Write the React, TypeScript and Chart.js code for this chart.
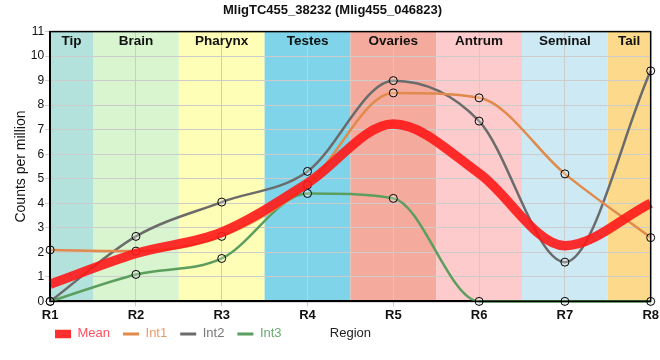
import React, { useEffect, useRef } from "react";
import { Chart, registerables } from "chart.js";

Chart.register(...registerables);

const TITLE = "MligTC455_38232 (Mlig455_046823)";
const categories = ["R1", "R2", "R3", "R4", "R5", "R6", "R7", "R8"];
const meanValues = [0.7, 1.95, 2.82, 4.82, 7.23, 5.22, 2.27, 4.0];
const int1Values = [2.1, 2.05, 2.65, 4.75, 8.5, 8.3, 5.2, 2.6];
const int2Values = [0, 2.65, 4.05, 5.3, 9.0, 7.35, 1.6, 9.4];
const int3Values = [0, 1.1, 1.75, 4.4, 4.2, 0, 0, 0];
const regionNames = ["Tip", "Brain", "Pharynx", "Testes", "Ovaries", "Antrum", "Seminal", "Tail"];
const regionColors = ["#b3e2dc", "#d8f5cf", "#fefeb6", "#7fd4ea", "#f4ab9d", "#fdcbcb", "#cdeaf4", "#fcd98b"];
const legendTextColors = ["#ff4f5e", "#e89a68", "#787878", "#6aab72"];

const bandEdges = (x: any, chartArea: any, i: number) => {
  const l = i === 0 ? chartArea.left : (x.getPixelForValue(i - 1) + x.getPixelForValue(i)) / 2;
  const r = i === regionNames.length - 1 ? chartArea.right : (x.getPixelForValue(i) + x.getPixelForValue(i + 1)) / 2;
  return [l, r];
};

const bandsPlugin = {
  id: "bands",
  afterLayout(chart: any) {
    const lg = chart.legend;
    const h = lg.height;
    lg.top = chart.chartArea.bottom + 13;
    lg.bottom = lg.top + h;
    lg.left = 42;
  },
  beforeDraw(chart: any) {
    const { ctx, chartArea, scales } = chart;
    ctx.save();
    for (let i = 0; i < regionNames.length; i++) {
      const [l, r] = bandEdges(scales.x, chartArea, i);
      ctx.fillStyle = regionColors[i];
      ctx.fillRect(l, chartArea.top, r - l, chartArea.bottom - chartArea.top);
    }
    ctx.restore();
  },
  afterDraw(chart: any) {
    const { ctx, chartArea, scales } = chart;
    ctx.save();
    ctx.strokeStyle = "#000";
    ctx.lineWidth = 1.5;
    ctx.strokeRect(chartArea.left, chartArea.top, chartArea.right - chartArea.left, chartArea.bottom - chartArea.top);
    ctx.fillStyle = "#111";
    ctx.font = "bold 13.5px Arial";
    ctx.textAlign = "center";
    ctx.textBaseline = "middle";
    for (let i = 0; i < regionNames.length; i++) {
      const [l, r] = bandEdges(scales.x, chartArea, i);
      ctx.fillText(regionNames[i], (l + r) / 2, chartArea.top + 10);
    }
    const lg = chart.legend;
    ctx.font = "13px Arial";
    ctx.fillStyle = "#222";
    ctx.fillText("Region", (chartArea.left + chartArea.right) / 2, lg.top + lg.height / 2 + 1);
    ctx.restore();
  },
};

export default function App() {
  const ref = useRef<HTMLCanvasElement>(null);
  useEffect(() => {
    document.body.style.margin = "0";
    const pointCommon = {
      pointRadius: 4,
      pointBackgroundColor: "rgba(255,255,255,0.25)",
      pointBorderColor: "#000",
      pointBorderWidth: 1,
      borderWidth: 2.5,
      cubicInterpolationMode: "monotone" as const,
      clip: false as any,
    };
    const chart = new Chart(ref.current!, {
      type: "line",
      data: {
        labels: categories,
        datasets: [
          {
            label: "Mean",
            data: meanValues,
            borderColor: "rgba(255,24,24,0.9)",
            backgroundColor: "rgba(255,24,24,0.9)",
            borderWidth: 9.5,
            pointRadius: 0,
            cubicInterpolationMode: "monotone",
            clip: false as any,
          },
          { label: "Int1", data: int1Values, borderColor: "#e08a4c", ...pointCommon },
          { label: "Int2", data: int2Values, borderColor: "#6b6b6b", ...pointCommon },
          { label: "Int3", data: int3Values, borderColor: "#5c9e5e", ...pointCommon },
        ],
      },
      options: {
        animation: false,
        responsive: false,
        layout: { padding: { left: 13, right: 8, top: 0, bottom: 0 } },
        plugins: {
          title: {
            display: true,
            text: TITLE,
            color: "#111",
            font: { family: "Arial", size: 13, weight: "bold" },
            padding: { top: 3, bottom: 13 },
          },
          tooltip: { enabled: false },
          legend: {
            position: "bottom",
            align: "start",
            labels: {
              usePointStyle: true,
              boxHeight: 8.5,
              pointStyleWidth: 16,
              padding: 13,
              font: { family: "Arial", size: 13 },
              generateLabels: (ch: any) =>
                ch.data.datasets.map((d: any, i: number) => ({
                  text: d.label,
                  datasetIndex: i,
                  hidden: false,
                  fillStyle: d.borderColor,
                  strokeStyle: d.borderColor,
                  lineWidth: i === 0 ? 0 : 3,
                  pointStyle: i === 0 ? "rect" : "line",
                  fontColor: legendTextColors[i],
                })),
            },
          },
        },
        scales: {
          x: {
            grid: { color: "#cccccc", lineWidth: 1, tickLength: 5, drawTicks: true },
            border: { color: "#000", width: 2 },
            ticks: { color: "#111", font: { family: "Arial", size: 13, weight: "bold" }, padding: 1 },
          },
          y: {
            min: 0,
            max: 11,
            grid: { color: "#cccccc", lineWidth: 1, tickLength: 5 },
            border: { color: "#000", width: 2 },
            ticks: { stepSize: 1, color: "#111", font: { family: "Arial", size: 12 }, padding: 1 },
            title: {
              display: true,
              text: "Counts per million",
              color: "#111",
              font: { family: "Arial", size: 14 },
              padding: { top: 0, bottom: 0 },
            },
          },
        },
      },
      plugins: [bandsPlugin],
    });
    return () => chart.destroy();
  }, []);
  return (
    <div style={{ width: 660, height: 360 }}>
      <canvas ref={ref} width={660} height={360} />
    </div>
  );
}
